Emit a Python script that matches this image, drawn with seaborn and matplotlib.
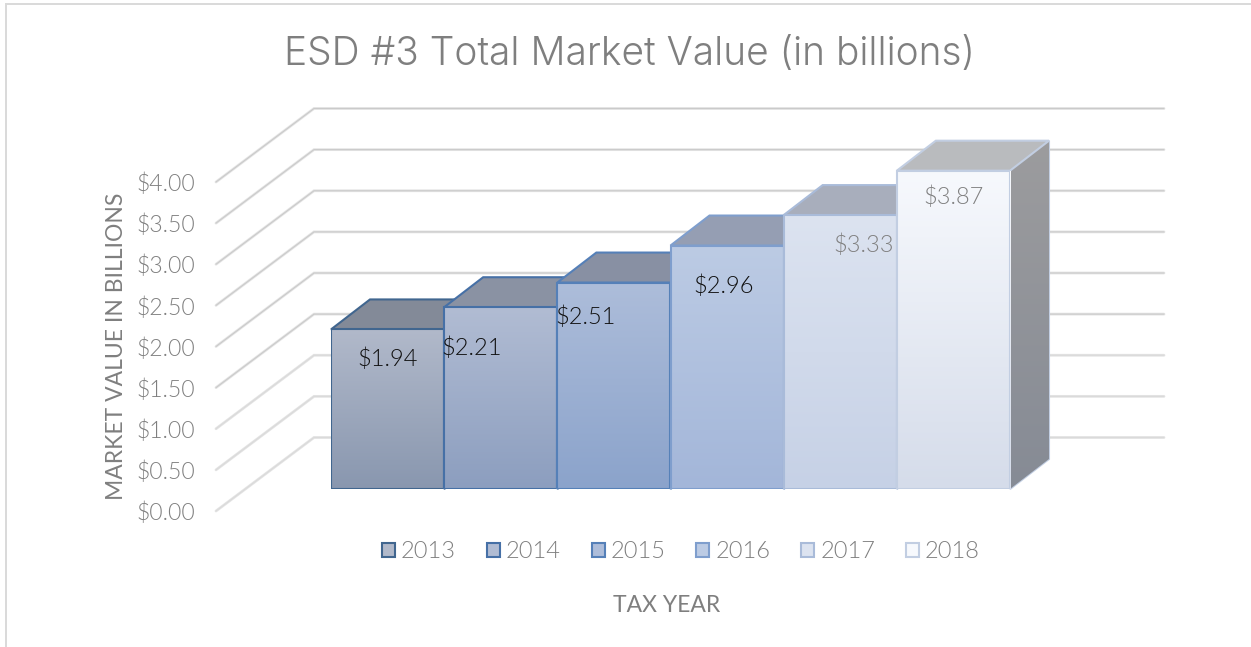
import matplotlib
matplotlib.use("Agg")
import matplotlib.pyplot as plt
import numpy as np
import pandas as pd
import seaborn as sns
from matplotlib.colors import to_rgb
from matplotlib.lines import Line2D
from matplotlib.patches import Patch, Polygon
from matplotlib.transforms import Affine2D, IdentityTransform

W, H = 1251, 647

# datos
years = ["2013", "2014", "2015", "2016", "2017", "2018"]
values = [1.94, 2.21, 2.51, 2.96, 3.33, 3.87]
tick_values = [0.0, 0.5, 1.0, 1.5, 2.0, 2.5, 3.0, 3.5, 4.0]
tick_labels = ["$0.00", "$0.50", "$1.00", "$1.50", "$2.00", "$2.50", "$3.00", "$3.50", "$4.00"]
value_labels = ["$1.94", "$2.21", "$2.51", "$2.96", "$3.33", "$3.87"]

# estilo de cada barra
grad_top = ["#b1b9ca", "#b1bcd3", "#adbdda", "#bccbe4", "#dce3f0", "#f7f9fd"]
grad_bottom = ["#8997af", "#8c9ebf", "#8ba3cb", "#a3b6d9", "#c6d1e6", "#d5dcea"]
edges = ["#41668f", "#4670a6", "#5580b8", "#7f9ecd", "#a9bbd9", "#c2cee2"]
top_faces = ["#838a98", "#8a92a3", "#8890a3", "#959eb3", "#a8aebc", "#b9bbbe"]
label_colors = ["#111111", "#111111", "#111111", "#111111", "#808080", "#808080"]
label_dx = [0, -29, -28, -3, 23, 0]
label_dy = [29, 41, 34, 40, 30, 26]

GREY = "#7f7f7f"
FONT = "Lato"

sns.set_theme(style="white")
plt.rcParams["font.family"] = [FONT, "DejaVu Sans"]
plt.rcParams["font.weight"] = 300

df = pd.DataFrame({"year": years, "value": values})

fig = plt.figure(figsize=(W / 100, H / 100), dpi=100, facecolor="white")
ax = fig.add_axes([331 / W, (H - 489) / H, 679 / W, 329 / H])
ax.patch.set_visible(False)

sns.barplot(
    data=df, x="year", y="value", hue="year", palette=grad_bottom,
    width=1.0, dodge=False, legend=False, ax=ax,
)
ax.set_xlim(-0.5, 5.5)
ax.set_ylim(0, 4)
sns.despine(ax=ax, left=True, bottom=True)


def px(x, y, dx=0, dy=0):
    a, b = ax.transData.transform((x, y))
    return (a + dx, b + dy)


# pared del fondo y lineas de division
for i, v in enumerate(tick_values):
    line = [px(-0.5, v, -115, -22), px(-0.5, v, -17, 51.5), px(5.5, v, 154, 51.5)]
    xs, ys = zip(*line)
    core = "#cacaca" if v >= 1.5 else "#dadada"
    ax.plot(xs, ys, transform=IdentityTransform(), color="#e4e4e4", lw=2.0,
            solid_capstyle="round", solid_joinstyle="miter", clip_on=False, zorder=1)
    ax.plot(xs, ys, transform=IdentityTransform(), color=core, lw=0.8,
            solid_capstyle="round", solid_joinstyle="miter", clip_on=False, zorder=1.1)

# caras laterales, superiores y frontales
DX, DY = 39, 30
bars = list(ax.patches)
for i, bar in enumerate(bars):
    x0, x1 = bar.get_x(), bar.get_x() + bar.get_width()
    h = bar.get_height()
    z = 2 + i
    side = Polygon([px(x1, 0), px(x1, 0, DX, DY), px(x1, h, DX, DY), px(x1, h)],
                   closed=True, transform=IdentityTransform(), clip_on=False,
                   facecolor="#92949a", edgecolor=edges[i], lw=1.5, zorder=z)
    ax.add_patch(side)
    if i == len(bars) - 1:
        # degradado de la cara lateral
        a = np.linspace(to_rgb("#9c9c9e"), to_rgb("#868b95"), 128).reshape(128, 1, 3)
        lo, hi = px(x1, 0), px(x1, h, DX, DY)
        im = ax.imshow(a, extent=(lo[0], hi[0], lo[1], hi[1]), aspect="auto", origin="upper",
                       transform=IdentityTransform(), zorder=z + 0.05)
        im.set_clip_box(fig.bbox)
        im.set_clip_path(side)
    ax.add_patch(Polygon([px(x0, h), px(x0, h, DX, DY), px(x1, h, DX, DY), px(x1, h)],
                         closed=True, transform=IdentityTransform(), clip_on=False,
                         facecolor=top_faces[i], edgecolor=edges[i], lw=1.5, zorder=z + 0.1))
    grad = np.linspace(to_rgb(grad_top[i]), to_rgb(grad_bottom[i]), 128).reshape(128, 1, 3)
    im = ax.imshow(grad, extent=(x0, x1, 0, h), aspect="auto", origin="upper", zorder=z + 0.2)
    im.set_clip_path(bar)
    bar.set_facecolor("none")
    bar.set_edgecolor(edges[i])
    bar.set_linewidth(1.5)
    bar.set_zorder(z + 0.3)
    lx, ly = px(i, h, label_dx[i], -label_dy[i])
    ax.text(lx, ly, value_labels[i], transform=IdentityTransform(), ha="center", va="center",
            fontsize=17, color=label_colors[i], zorder=20)

ax.set_xlim(-0.5, 5.5)
ax.set_ylim(0, 4)

# ejes
ax.set_xticks([])
ax.set_xlabel("TAX YEAR", fontsize=16.5, color=GREY)
ax.xaxis.set_label_coords((667 - 331) / 679, (489 - 605) / 329, transform=ax.transAxes)
ax.xaxis.label.set_va("center")
ax.set_ylabel("MARKET VALUE IN BILLIONS", fontsize=16.5, color=GREY)
ax.yaxis.set_label_coords((117 - 331) / 679, (489 - 346) / 329, transform=ax.transAxes)
ax.yaxis.label.set_va("center")
ax.set_yticks(tick_values)
ax.set_yticklabels(tick_labels, fontsize=16.6, color=GREY)
ax.tick_params(axis="y", length=0, pad=98)
for lab in ax.get_yticklabels():
    lab.set_transform(lab.get_transform() + Affine2D().translate(0, -22))

fig.text(629 / W, (H - 55) / H, "ESD #3 Total Market Value (in billions)", fontsize=28,
         color=GREY, ha="center", va="center", family=["Inter", "Lato"], weight=300)

handles = [Patch(facecolor=grad_top[i], edgecolor=edges[i], lw=1.5) for i in range(len(years))]
fig.legend(handles, years, loc="center", bbox_to_anchor=(681 / W, (H - 551.5) / H), ncol=6,
           frameon=False, fontsize=17, labelcolor=GREY, handlelength=0.55, handleheight=0.55,
           handletextpad=0.25, columnspacing=1.31)

# marco del grafico: solo arriba y a la izquierda
fig.add_artist(Line2D([6 / W, 6 / W, 1.0], [0, (H - 3.5) / H, (H - 3.5) / H],
                      transform=fig.transFigure, color="#d9d9d9", lw=1.4,
                      solid_joinstyle="miter"))

fig.savefig("out.png", dpi=100)
